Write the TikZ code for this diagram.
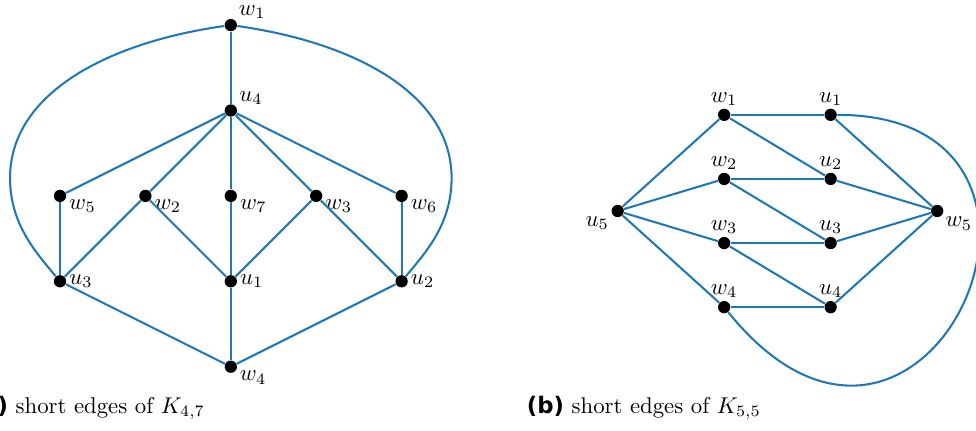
\documentclass[tikz,border=0pt]{standalone}
\usepackage{fontspec}
\usepackage{xcolor}
\usepackage{tikz}
\usetikzlibrary{positioning}
\newfontfamily\capfont{DejaVu Sans}
\definecolor{edgeblue}{RGB}{31,119,180}
\tikzset{
  vtx/.style={circle, fill=black, inner sep=0pt, minimum size=5.4pt},
  lnk/.style={draw=edgeblue, line width=0.9pt},
  every label/.style={inner sep=1pt},
}

\begin{document}
\begin{tikzpicture}
    \useasboundingbox (0,0) rectangle (15.062,6.636);

    % (a) K_{4,7}
    \begin{scope}[shift={(0.926,0.977)}, x=1.318cm, y=1.318cm]
        % 顶点
        \node[vtx, label=35:$w_1$] (aw1) at (2,4) {};
        \node[vtx, label=28:$u_4$] (au4) at (2,3) {};
        \foreach \n/\x in {5/0, 2/1, 7/2, 3/3, 6/4} {
            \node[vtx, label=-10:$w_\n$] (aw\n) at (\x,2) {};
        }
        \foreach \n/\x in {3/0, 1/2, 2/4} {
            \node[vtx, label=right:$u_\n$] (au\n) at (\x,1) {};
        }
        \node[vtx, label=-15:$w_4$] (aw4) at (2,0) {};
        \coordinate (aL) at (-0.585,2.21);
        \coordinate (aR) at (4.585,2.21);

        % 边
        \foreach \a/\b in {aw1/au4, au4/aw5, au4/aw2, au4/aw7, au4/aw3, au4/aw6,
                           aw5/au3, aw2/au3, aw2/au1, aw7/au1, aw3/au1, aw3/au2,
                           aw6/au2, au3/aw4, au1/aw4, au2/aw4} {
            \draw[lnk] (\a) -- (\b);
        }
        % 外侧两条弧
        \draw[lnk] (aw1) .. controls +(-1.45,-0.204) and +(0,0.984) .. (aL)
                         .. controls +(0,-0.527) and +(-0.301,0.358) .. (au3);
        \draw[lnk] (aw1) .. controls +(1.45,-0.204) and +(0,0.984) .. (aR)
                         .. controls +(0,-0.527) and +(0.301,0.358) .. (au2);
    \end{scope}

    % (b) K_{5,5}
    \begin{scope}[shift={(9.532,3.380)}, x=1.6435cm, y=0.9892cm]
        % 顶点
        \node[vtx, label=-155:$u_5$] (bu5) at (0,0) {};
        \node[vtx, label=-30:$w_5$] (bw5) at (3,0) {};
        \foreach \n/\y in {1/1.5, 2/0.5, 3/-0.5, 4/-1.5} {
            \node[vtx, label=above:$w_\n$] (bw\n) at (1,\y) {};
            \node[vtx, label=above:$u_\n$] (bu\n) at (2,\y) {};
        }

        % 边
        \foreach \a/\b in {bu5/bw1, bu5/bw2, bu5/bw3, bu5/bw4,
                           bw1/bu1, bw1/bu2, bw2/bu2, bw2/bu3,
                           bw3/bu3, bw3/bu4, bw4/bu4,
                           bu1/bw5, bu2/bw5, bu3/bw5, bu4/bw5} {
            \draw[lnk] (\a) -- (\b);
        }
        % 外侧弧
        \draw[lnk] (bu1) .. controls +(2.72,0) and +(1.89,-3.88) .. (bw4);
    \end{scope}

    % 图注
    \node[anchor=base west, inner sep=0pt] (capa) at (-0.44,0.262)
        {{\capfont\bfseries (a)} short edges of $K_{4,7}$};
    \node[anchor=base west, inner sep=0pt] (capb) at (8.125,0.262)
        {{\capfont\bfseries (b)} short edges of $K_{5,5}$};
\end{tikzpicture}
\end{document}
